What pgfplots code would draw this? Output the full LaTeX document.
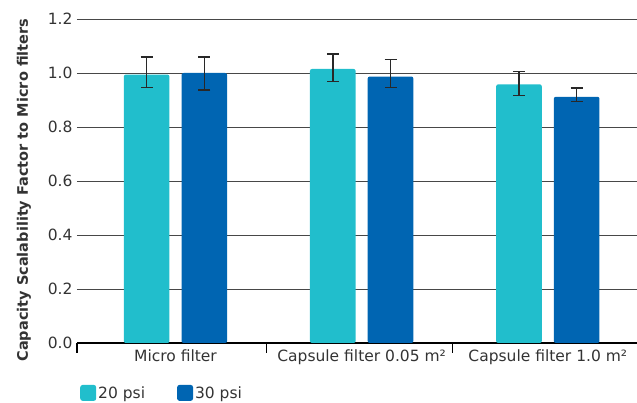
\documentclass[border=0pt]{standalone}
\usepackage{pgfplots}
\pgfplotsset{compat=1.18}
\usepackage{fontspec}
\setmainfont{DejaVu Sans}
\definecolor{cyanbar}{RGB}{33,190,204}
\definecolor{bluebar}{RGB}{0,101,178}
\definecolor{txt}{RGB}{51,51,51}
\definecolor{errc}{RGB}{40,40,40}
\begin{document}
\begin{tikzpicture}
\begin{axis}[
  scale only axis, width=560pt, height=324pt,
  ybar, bar width=0.245,
  xmin=-0.529, xmax=2.479, ymin=0, ymax=1.2,
  axis x line*=bottom, axis y line*=left,
  y axis line style={draw=none},
  x axis line style={black, line width=1.4pt},
  ytick={0,0.2,0.4,0.6,0.8,1.0,1.2},
  ymajorgrids, grid style={black!72, line width=0.7pt},
  major tick length=0pt,
  xtick={0,1,2},
  xticklabels={Micro filter, Capsule filter 0.05 m², Capsule filter 1.0 m²},
  extra x ticks={-0.529,0.49,1.49},
  extra x tick labels={},
  extra x tick style={major tick length=10pt, tick align=outside, tick style={black, line width=1.2pt}, grid=none},
  /pgf/number format/assume math mode=true,
  yticklabel style={/pgf/number format/fixed, /pgf/number format/fixed zerofill, /pgf/number format/precision=1},
  yticklabel style={font=\fontsize{15.5}{18}\selectfont, text=txt, xshift=-1pt},
  xticklabel style={font=\fontsize{15.5}{18}\selectfont, text=txt, yshift=-3pt},
  ylabel={Capacity Scalability Factor to Micro filters},
  ylabel style={at={(axis description cs:-0.0946,0.472)}, anchor=center, font=\fontsize{14.5}{17}\selectfont\bfseries, text=txt},
  legend columns=2,
  legend style={at={(axis description cs:0.0054,-0.154)}, anchor=west, draw=none, fill=none, inner sep=0pt, font=\fontsize{15.5}{18}\selectfont, text=txt,
    /tikz/every even column/.append style={column sep=30pt}},
  legend image code/.code={\fill[#1, draw=none, rounded corners=2.5pt] (0pt,-8pt) rectangle (16pt,8pt);},
]
\addplot[bar shift=-0.155, fill=cyanbar, draw=none, rounded corners=2pt,
  error bars/.cd, y dir=both, y explicit,
  error bar style={errc, line width=1.6pt, sharp corners},
  error mark options={rotate=90, mark size=6pt, line width=1.6pt, errc}]
  coordinates {
    (0,0.994) += (0,0.065) -= (0,0.047)
    (1,1.015) += (0,0.056) -= (0,0.047)
    (2,0.958) += (0,0.048) -= (0,0.042)
  };
\addlegendentry{20 psi}
\addplot[bar shift=0.155, fill=bluebar, draw=none, rounded corners=2pt,
  error bars/.cd, y dir=both, y explicit,
  error bar style={errc, line width=1.6pt, sharp corners},
  error mark options={rotate=90, mark size=6pt, line width=1.6pt, errc}]
  coordinates {
    (0,1.000) += (0,0.059) -= (0,0.064)
    (1,0.987) += (0,0.063) -= (0,0.040)
    (2,0.912) += (0,0.032) -= (0,0.017)
  };
\addlegendentry{30 psi}
\end{axis}
\pgfresetboundingbox
\path[use as bounding box] (-77pt,-60pt) rectangle (560pt,343pt);
\end{tikzpicture}
\end{document}
